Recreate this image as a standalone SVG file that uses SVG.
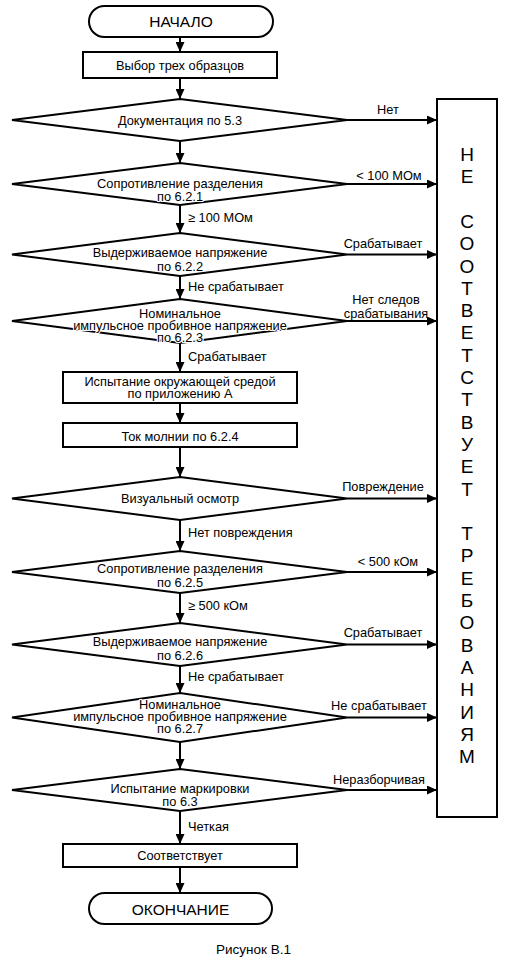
<svg xmlns="http://www.w3.org/2000/svg" width="511" height="964" viewBox="0 0 511 964">
<defs>
<marker id="ah" markerUnits="userSpaceOnUse" markerWidth="10" markerHeight="9" refX="10" refY="4.5" orient="auto">
<path d="M0,0 L10,4.5 L0,9 Z" fill="#000"/>
</marker>
</defs>
<style>
.s{fill:#fff;stroke:#000;stroke-width:2}
.t{font-family:"Liberation Sans",Arial,sans-serif;font-size:12.8px;fill:#000;text-anchor:middle}
.h{stroke:#fff;stroke-width:2.2;paint-order:stroke;stroke-linejoin:round}
.l{font-family:"Liberation Sans",Arial,sans-serif;font-size:12.8px;fill:#000}
.b{font-family:"Liberation Sans",Arial,sans-serif;font-size:15.5px;fill:#000;text-anchor:middle}
.v{font-family:"Liberation Sans",Arial,sans-serif;font-size:19px;fill:#000;text-anchor:middle}
.c{fill:none;stroke:#000;stroke-width:2;marker-end:url(#ah)}
</style>
<rect width="511" height="964" fill="#fff"/>
<g id="connectors">
<line class="c" x1="180" y1="37" x2="180" y2="52"/>
<line class="c" x1="180" y1="78" x2="180" y2="99"/>
<line class="c" x1="180" y1="141" x2="180" y2="163"/>
<line class="c" x1="180" y1="205" x2="180" y2="233"/>
<line class="c" x1="180" y1="276" x2="180" y2="299"/>
<line class="c" x1="180" y1="343" x2="180" y2="372"/>
<line class="c" x1="180" y1="403" x2="180" y2="423"/>
<line class="c" x1="180" y1="447" x2="180" y2="477"/>
<line class="c" x1="180" y1="520" x2="180" y2="551"/>
<line class="c" x1="180" y1="593" x2="180" y2="623"/>
<line class="c" x1="180" y1="666" x2="180" y2="693"/>
<line class="c" x1="180" y1="742" x2="180" y2="769"/>
<line class="c" x1="180" y1="811" x2="180" y2="844"/>
<line class="c" x1="180" y1="867" x2="180" y2="893"/>
<line class="c" x1="347" y1="120" x2="437" y2="120"/>
<line class="c" x1="347" y1="184" x2="437" y2="184"/>
<line class="c" x1="347" y1="254.5" x2="437" y2="254.5"/>
<line class="c" x1="347" y1="321" x2="437" y2="321"/>
<line class="c" x1="347" y1="498.5" x2="437" y2="498.5"/>
<line class="c" x1="347" y1="572" x2="437" y2="572"/>
<line class="c" x1="347" y1="644.5" x2="437" y2="644.5"/>
<line class="c" x1="347" y1="717.5" x2="437" y2="717.5"/>
<line class="c" x1="347" y1="790" x2="437" y2="790"/>
<text class="t" x="388" y="114">Нет</text>
<text class="t" x="389" y="180">&lt; 100 МОм</text>
<text class="l" x="188" y="222">≥ 100 МОм</text>
<text class="t" x="383" y="248">Срабатывает</text>
<text class="l" x="188" y="291">Не срабатывает</text>
<text class="t" x="386" y="304">Нет следов</text>
<text class="t" x="386" y="318">срабатывания</text>
<text class="l" x="188" y="361">Срабатывает</text>
<text class="t" x="383" y="491">Повреждение</text>
<text class="l" x="188" y="537">Нет повреждения</text>
<text class="t" x="388" y="566">&lt; 500 кОм</text>
<text class="l" x="188" y="610">≥ 500 кОм</text>
<text class="t" x="383" y="637">Срабатывает</text>
<text class="l" x="188" y="681">Не срабатывает</text>
<text class="t" x="379" y="710">Не срабатывает</text>
<text class="t" x="379" y="784">Неразборчивая</text>
<text class="l" x="188" y="831">Четкая</text>
</g>
<g id="start">
<rect class="s" x="89" y="6" width="184" height="31" rx="15.5"/>
<text class="b" x="181" y="27">НАЧАЛО</text>
</g>
<g id="select">
<rect class="s" x="83" y="52" width="194" height="26"/>
<text class="t" x="180" y="69.5">Выбор трех образцов</text>
</g>
<g id="d1">
<polygon class="s" points="12,120 180,99 347,120 180,141"/>
<text class="t" x="180" y="124.5">Документация по 5.3</text>
</g>
<g id="d2">
<polygon class="s" points="12,184 180,163 347,184 180,205"/>
<text class="t h" x="180" y="187.5">Сопротивление разделения</text>
<text class="t h" x="180" y="201">по 6.2.1</text>
</g>
<g id="d3">
<polygon class="s" points="12,254.5 180,233 347,254.5 180,276"/>
<text class="t h" x="180" y="256.5">Выдерживаемое напряжение</text>
<text class="t h" x="180" y="271">по 6.2.2</text>
</g>
<g id="d4">
<polygon class="s" points="12,321 180,299 347,321 180,343"/>
<text class="t h" x="180" y="317.5">Номинальное</text>
<text class="t h" x="180" y="329.5">импульсное пробивное напряжение</text>
<text class="t h" x="180" y="341.5">по 6.2.3</text>
</g>
<g id="env">
<rect class="s" x="63" y="372" width="234" height="31"/>
<text class="t" x="180" y="385.5">Испытание окружающей средой</text>
<text class="t" x="180" y="398">по приложению А</text>
</g>
<g id="lightning">
<rect class="s" x="63" y="423" width="234" height="24"/>
<text class="t" x="180" y="441">Ток молнии по 6.2.4</text>
</g>
<g id="d5">
<polygon class="s" points="12,498.5 180,477 347,498.5 180,520"/>
<text class="t" x="180" y="503">Визуальный осмотр</text>
</g>
<g id="d6">
<polygon class="s" points="12,572 180,551 347,572 180,593"/>
<text class="t h" x="180" y="572.5">Сопротивление разделения</text>
<text class="t h" x="180" y="587">по 6.2.5</text>
</g>
<g id="d7">
<polygon class="s" points="12,644.5 180,623 347,644.5 180,666"/>
<text class="t h" x="180" y="645.5">Выдерживаемое напряжение</text>
<text class="t h" x="180" y="660">по 6.2.6</text>
</g>
<g id="d8">
<polygon class="s" points="12,717.5 180,693 347,717.5 180,742"/>
<text class="t h" x="180" y="709">Номинальное</text>
<text class="t h" x="180" y="721">импульсное пробивное напряжение</text>
<text class="t h" x="180" y="732.5">по 6.2.7</text>
</g>
<g id="d9">
<polygon class="s" points="12,790 180,769 347,790 180,811"/>
<text class="t h" x="180" y="792.5">Испытание маркировки</text>
<text class="t h" x="180" y="806">по 6.3</text>
</g>
<g id="ok">
<rect class="s" x="63" y="844" width="234" height="23"/>
<text class="t" x="180" y="860">Соответствует</text>
</g>
<g id="end">
<rect class="s" x="89" y="893" width="183" height="31" rx="15.5"/>
<text class="b" x="180.5" y="914.5">ОКОНЧАНИЕ</text>
</g>
<g id="fail">
<rect class="s" x="437" y="99" width="60" height="718"/>
<text class="v" x="467" y="161">Н</text>
<text class="v" x="467" y="183.3">Е</text>
<text class="v" x="467" y="227.9">С</text>
<text class="v" x="467" y="250.2">О</text>
<text class="v" x="467" y="272.5">О</text>
<text class="v" x="467" y="294.8">Т</text>
<text class="v" x="467" y="317.1">В</text>
<text class="v" x="467" y="339.4">Е</text>
<text class="v" x="467" y="361.7">Т</text>
<text class="v" x="467" y="384">С</text>
<text class="v" x="467" y="406.3">Т</text>
<text class="v" x="467" y="428.6">В</text>
<text class="v" x="467" y="450.9">У</text>
<text class="v" x="467" y="473.2">Е</text>
<text class="v" x="467" y="495.5">Т</text>
<text class="v" x="467" y="540.1">Т</text>
<text class="v" x="467" y="562.4">Р</text>
<text class="v" x="467" y="584.7">Е</text>
<text class="v" x="467" y="607">Б</text>
<text class="v" x="467" y="629.3">О</text>
<text class="v" x="467" y="651.6">В</text>
<text class="v" x="467" y="673.9">А</text>
<text class="v" x="467" y="696.2">Н</text>
<text class="v" x="467" y="718.5">И</text>
<text class="v" x="467" y="740.8">Я</text>
<text class="v" x="467" y="763.1">М</text>
</g>
<text class="l" x="216" y="954" style="font-size:13.5px">Рисунок В.1</text>
</svg>
